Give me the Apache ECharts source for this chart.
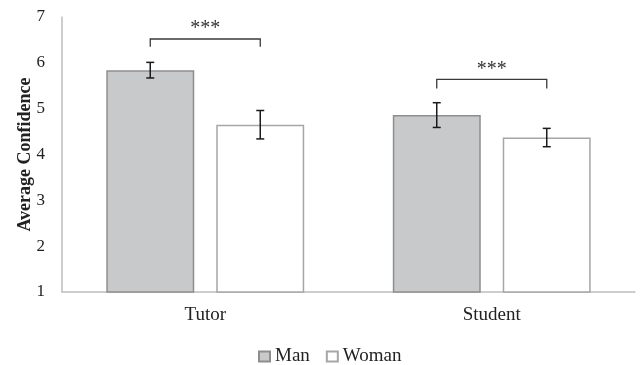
<!DOCTYPE html>
<html>
<head>
<meta charset="utf-8">
<script src="https://cdn.jsdelivr.net/npm/echarts@6/dist/echarts.min.js"></script>
<style>
  html, body { margin: 0; padding: 0; background: #fff; }
  #chart { width: 641px; height: 365px; }
</style>
</head>
<body>
<div id="chart"></div>
<script>
// Average confidence by role and gender, with standard-error bars
const categories = ['Tutor', 'Student'];
const manMeans = [5.84, 4.86];
const womanMeans = [4.65, 4.37];
const manErr = [0.17, 0.27];
const womanErr = [0.31, 0.20];
// significance brackets: bottom of the legs and top bar, per category
const bracketLow = [6.35, 5.44];
const bracketHigh = [6.52, 5.64];
const sigLabels = ['***', '***'];

const FONT = '"Liberation Serif", "Times New Roman", serif';
const BAR_OFFSET = 0.192;   // bar centre offset from category centre, in band units

const chart = echarts.init(document.getElementById('chart'));

function errData(means, errs) {
  return means.map((m, i) => [i, m - errs[i], m + errs[i]]);
}

function errorBarRenderer(side) {
  return function (params, api) {
    const cat = api.value(0);
    const band = api.size([1, 0])[0];
    const lo = api.coord([cat, api.value(1)]);
    const hi = api.coord([cat, api.value(2)]);
    const x = lo[0] + side * BAR_OFFSET * band;
    const cap = 4;
    const style = { stroke: '#1a1a1a', lineWidth: 1.5 };
    return {
      type: 'group',
      children: [
        { type: 'line', shape: { x1: x, y1: hi[1], x2: x, y2: lo[1] }, style },
        { type: 'line', shape: { x1: x - cap, y1: hi[1], x2: x + cap, y2: hi[1] }, style },
        { type: 'line', shape: { x1: x - cap, y1: lo[1], x2: x + cap, y2: lo[1] }, style }
      ]
    };
  };
}

const bracketData = categories.map((c, i) => [i, bracketLow[i], bracketHigh[i]]);

chart.setOption({
  animation: false,
  backgroundColor: '#fff',
  grid: { left: 62, right: 6, top: 17, bottom: 73, containLabel: false, outerBoundsMode: 'none' },
  legend: {
    data: ['Man', 'Woman'],
    top: 342,
    left: 253,
    icon: 'rect',
    itemWidth: 11,
    itemHeight: 10,
    itemGap: 16,
    textStyle: { fontFamily: FONT, fontSize: 19, color: '#222' }
  },
  xAxis: {
    type: 'category',
    data: categories,
    axisLine: { lineStyle: { color: '#bdbdbd', width: 1.5 } },
    axisTick: { show: false },
    axisLabel: { margin: 14, fontFamily: FONT, fontSize: 19, color: '#222' }
  },
  yAxis: {
    type: 'value',
    min: 1,
    max: 7,
    interval: 1,
    name: 'Average Confidence',
    nameLocation: 'middle',
    nameGap: 28,
    nameMoveOverlap: false,
    nameTextStyle: { fontFamily: FONT, fontSize: 18, fontWeight: 'bold', color: '#222' },
    splitLine: { show: false },
    axisLine: { show: true, lineStyle: { color: '#bdbdbd', width: 1.5 } },
    axisTick: { show: false },
    axisLabel: { margin: 17, fontFamily: FONT, fontSize: 17, color: '#222' }
  },
  series: [
    {
      name: 'Man',
      type: 'bar',
      data: manMeans,
      barWidth: '30.7%',
      barGap: '25%',
      itemStyle: { color: '#c8c9cb', borderColor: '#8e8e8e', borderWidth: 1.5 }
    },
    {
      name: 'Woman',
      type: 'bar',
      data: womanMeans,
      barWidth: '30.7%',
      itemStyle: { color: '#ffffff', borderColor: '#a6a6a6', borderWidth: 1.5 }
    },
    {
      name: 'Man SE',
      type: 'custom',
      data: errData(manMeans, manErr),
      encode: { x: 0, y: [1, 2] },
      renderItem: errorBarRenderer(-1),
      z: 5
    },
    {
      name: 'Woman SE',
      type: 'custom',
      data: errData(womanMeans, womanErr),
      encode: { x: 0, y: [1, 2] },
      renderItem: errorBarRenderer(1),
      z: 5
    },
    {
      name: 'Significance',
      type: 'custom',
      data: bracketData,
      encode: { x: 0, y: [1, 2] },
      renderItem: function (params, api) {
        const cat = api.value(0);
        const band = api.size([1, 0])[0];
        const lo = api.coord([cat, api.value(1)]);
        const hi = api.coord([cat, api.value(2)]);
        const x1 = lo[0] - BAR_OFFSET * band;
        const x2 = lo[0] + BAR_OFFSET * band;
        const style = { stroke: '#3a3a3a', lineWidth: 1.3, fill: null };
        return {
          type: 'group',
          children: [
            { type: 'polyline', shape: { points: [[x1, lo[1]], [x1, hi[1]], [x2, hi[1]], [x2, lo[1]]] }, style },
            {
              type: 'text',
              style: {
                x: lo[0], y: hi[1] - 10,
                text: sigLabels[params.dataIndex],
                textAlign: 'center', textVerticalAlign: 'middle',
                fontFamily: FONT, fontSize: 20, fill: '#333'
              }
            }
          ]
        };
      },
      z: 5
    }
  ]
});
</script>
</body>
</html>
